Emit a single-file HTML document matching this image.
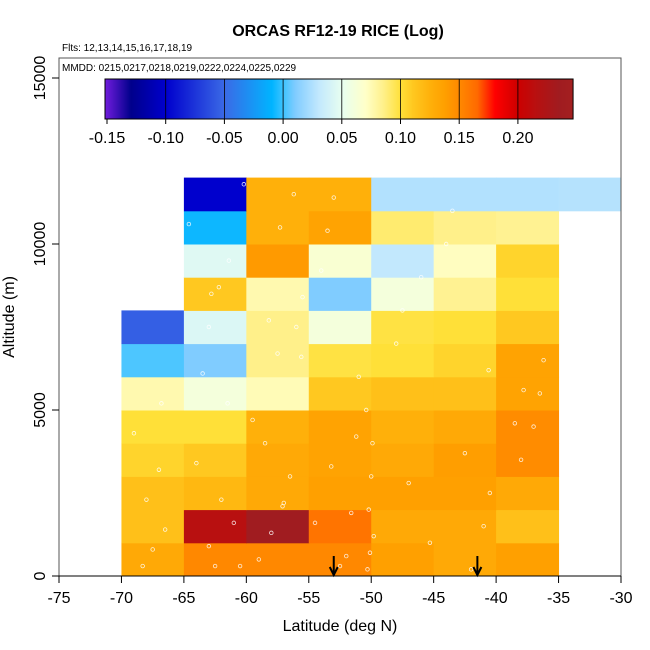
<!DOCTYPE html>
<html><head><meta charset="utf-8"><style>
body{margin:0;background:#fff;}
svg{display:block;font-family:"Liberation Sans",Arial,sans-serif;}
</style></head><body>
<svg id="chart" width="650" height="650" viewBox="0 0 650 650">
<text x="338" y="36" text-anchor="middle" font-size="16" font-weight="bold">ORCAS RF12-19 RICE (Log)</text>
<text x="62" y="51" font-size="10">Flts: 12,13,14,15,16,17,18,19</text>
<g id="cells"></g>
<g id="pts"></g>
<rect x="59" y="58" width="562" height="518" fill="none" stroke="#555" stroke-width="1"/>
<text x="62" y="71" font-size="10">MMDD: 0215,0217,0218,0219,0222,0224,0225,0229</text>
<g id="legend"></g>
<g id="axes"></g>
<text x="340" y="631" text-anchor="middle" font-size="16">Latitude (deg N)</text>
<text transform="translate(14,317) rotate(-90)" text-anchor="middle" font-size="16">Altitude (m)</text>
</svg>
<script>
const latEdges = [-70,-65,-60,-55,-50,-45,-40,-35,-30];
const altEdges = [0,1000,2000,3000,4000,5000,6000,7000,8000,9000,10000,11000,12000];
// values[row][col], row 0 = 0-1 km
const row0  = [0.13,0.15,0.15,0.15,0.137,0.13,0.137,null];
const row1  = [0.115,0.215,0.235,0.16,0.13,0.13,0.115,null];
const row2  = [0.115,0.12,0.13,0.137,0.137,0.137,0.13,null];
const row3  = [0.105,0.11,0.13,0.135,0.13,0.138,0.148,null];
const row4  = [0.1,0.1,0.125,0.135,0.125,0.13,0.148,null];
const row5  = [0.076,0.06,0.074,0.11,0.115,0.115,0.135,null];
const row6  = [0.002,0.01,0.085,0.098,0.1,0.105,0.135,null];
const row7  = [-0.055,0.043,0.085,0.06,0.098,0.1,0.11,null];
const row8  = [null,0.11,0.076,0.01,0.06,0.083,0.1,null];
const row9  = [null,0.045,0.14,0.065,0.03,0.072,0.105,null];
const row10 = [null,-0.008,0.125,0.135,0.09,0.085,0.083,null];
const row11 = [null,-0.1,0.125,0.125,0.025,0.025,0.025,0.026];
const values = [row0,row1,row2,row3,row4,row5,row6,row7,row8,row9,row10,row11];
const legendTicks = [-0.15,-0.10,-0.05,0.00,0.05,0.10,0.15,0.20];
const xTicks = [-75,-70,-65,-60,-55,-50,-45,-40,-35,-30];
const yTicks = [0,5000,10000,15000];
const arrowLats = [-53,-41.5];
const ptLat = [-68.3,-67.5,-66.5,-68,-67,-69,-66.8,-62.5,-63,-61,-60.5,-62,-64,-59,-58,-57,-56.5,-58.5,-59.5,-61.5,-63.5,-57.5,-56,-55.5,-54,-53.5,-53,-52.5,-54.5,-50.3,-50.1,-49.8,-50.2,-50,-49.9,-50.4,-51,-48,-47.5,-46,-44,-43.5,-42,-41,-40.5,-38,-37,-36.5,-36.2,-63,-62.8,-61.4,-57.3,-56.2,-52,-51.6,-47,-42.5,-38.5,-37.8,-55.6,-58.2,-62.2,-66,-64.6,-60.2,-57.1,-53.2,-51.2,-45.3,-40.6];
const ptAlt = [300,800,1400,2300,3200,4300,5200,300,900,1600,300,2300,3400,500,1300,2200,3000,4000,4700,5200,6100,6700,7500,8400,9200,10400,11400,300,1600,200,700,1200,2000,3000,4000,5000,6000,7000,8000,9000,10000,11000,200,1500,2500,3500,4500,5500,6500,7500,8500,9500,10500,11500,600,1900,2800,3700,4600,5600,6600,7700,8700,9600,10600,11800,2100,3300,4200,1000,6200];
const X = lat => 59 + (lat + 75) * 562 / 45;
const Y = alt => 576 - alt * 0.0332;
const stops = [[-0.155,[128,32,232]],[-0.13,[0,0,139]],[-0.1,[0,0,205]],[-0.05,[58,106,230]],[-0.01,[0,180,255]],[0,[64,196,255]],[0.01,[128,204,255]],[0.03,[194,232,253]],[0.05,[232,255,240]],[0.07,[255,255,200]],[0.085,[255,240,138]],[0.1,[255,224,56]],[0.11,[255,200,32]],[0.125,[255,176,10]],[0.137,[255,160,0]],[0.15,[255,136,0]],[0.165,[255,106,0]],[0.18,[255,0,0]],[0.2,[204,0,0]],[0.215,[184,16,16]],[0.235,[160,28,32]],[0.25,[165,32,32]]];
function col(v){
  if(v<=stops[0][0]) return 'rgb('+stops[0][1]+')';
  for(let i=1;i<stops.length;i++){
    if(v<=stops[i][0]){
      const a=stops[i-1],b=stops[i],t=(v-a[0])/(b[0]-a[0]);
      return 'rgb('+a[1].map((c,k)=>Math.round(c+(b[1][k]-c)*t)).join(',')+')';
    }
  }
  return 'rgb('+stops[stops.length-1][1]+')';
}
const NS='http://www.w3.org/2000/svg';
function mk(tag,attrs,parent){const e=document.createElementNS(NS,tag);for(const k in attrs)e.setAttribute(k,attrs[k]);parent.appendChild(e);return e;}
const cells=document.getElementById('cells');
values.forEach((row,r)=>row.forEach((v,c)=>{
  if(v===null) return;
  const x0=X(latEdges[c]),x1=X(latEdges[c+1]),y0=Y(altEdges[r+1]),y1=Y(altEdges[r]);
  const e=mk('rect',{x:x0,y:y0,width:x1-x0+0.5,height:y1-y0+0.5,fill:col(v)},cells);
  
  
}));
const pts=document.getElementById('pts');
ptLat.forEach((la,i)=>{
  const e=mk('circle',{cx:X(la),cy:Y(ptAlt[i]),r:1.8,fill:'none',stroke:'#fff','stroke-width':0.8,opacity:0.85},pts);
  
  
});
// legend
const lg=document.getElementById('legend');
const LX=v=>107+(v+0.15)*1174;
const lmin=-0.1517,lmax=0.247;
for(let x=Math.round(LX(lmin));x<Math.round(LX(lmax));x++){
  const v=lmin+(x-LX(lmin))/1174;
  mk('rect',{x:x,y:79,width:1.2,height:40,fill:col(v)},lg);
}
mk('rect',{x:LX(lmin),y:79,width:LX(lmax)-LX(lmin),height:40,fill:'none',stroke:'#000','stroke-width':1},lg);
legendTicks.forEach(t=>{
  if(t>-0.15+1e-9) mk('line',{x1:LX(t),x2:LX(t),y1:79,y2:119,stroke:'#000','stroke-width':0.8},lg);
  mk('line',{x1:LX(t),x2:LX(t),y1:119,y2:124,stroke:'#000'},lg);
  const tx=mk('text',{x:LX(t),y:143,'text-anchor':'middle','font-size':16},lg);
  tx.textContent=t.toFixed(2);
  
  
});
// axes
const ax=document.getElementById('axes');
mk('line',{x1:59,x2:621,y1:576,y2:576,stroke:'#000','stroke-width':1},ax);
xTicks.forEach(t=>{
  mk('line',{x1:X(t),x2:X(t),y1:576,y2:583,stroke:'#000'},ax);
  const tx=mk('text',{x:X(t),y:603,'text-anchor':'middle','font-size':16},ax);
  tx.textContent=t;
  
  
});
yTicks.forEach(t=>{
  mk('line',{x1:52,x2:59,y1:Y(t),y2:Y(t),stroke:'#000'},ax);
  const tx=mk('text',{transform:'translate(45,'+Y(t)+') rotate(-90)','text-anchor':'middle','font-size':16},ax);
  tx.textContent=t;
  
  
});
arrowLats.forEach(la=>{
  const x=X(la);
  const g=mk('g',{},ax);
  
  
  mk('line',{x1:x,x2:x,y1:556,y2:575,stroke:'#000','stroke-width':2},g);
  mk('polyline',{points:(x-4)+',567 '+x+',575 '+(x+4)+',567',fill:'none',stroke:'#000','stroke-width':2},g);
});
</script>
</body></html>
